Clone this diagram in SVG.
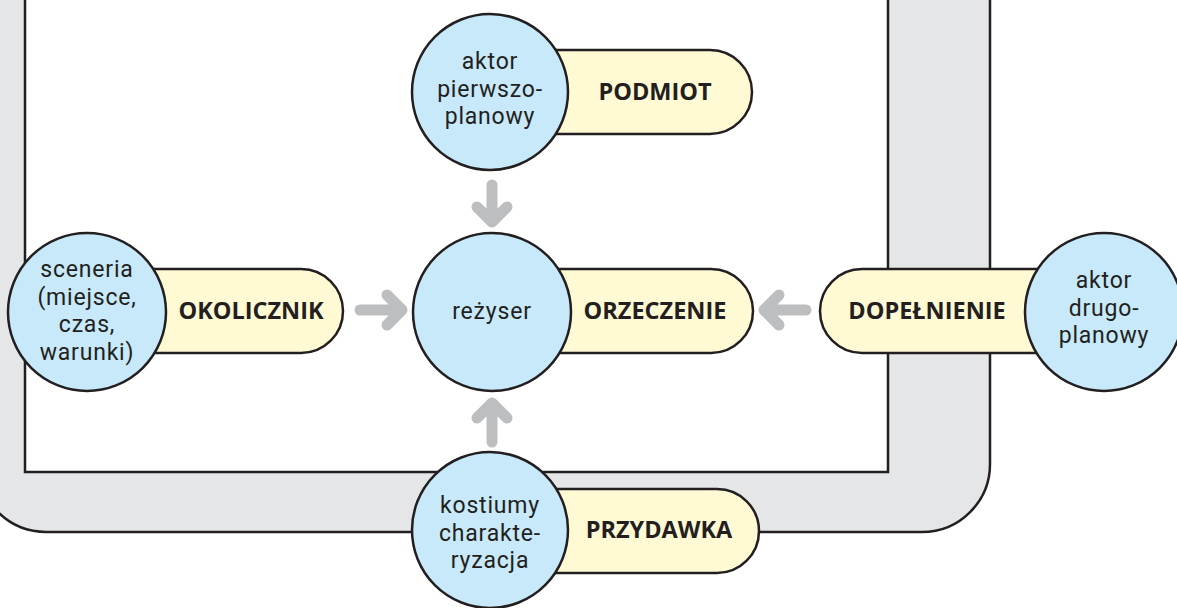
<svg xmlns="http://www.w3.org/2000/svg" width="1177" height="608" viewBox="0 0 1177 608">
  <defs>
    <style>
      .frame { fill: #e5e6e7; stroke: #231f20; stroke-width: 2.5; }
      .inner { fill: #ffffff; stroke: #231f20; stroke-width: 2.5; }
      .pill { fill: #fff9d4; stroke: #231f20; stroke-width: 2.5; }
      .circ { fill: #c7e9f9; stroke: #231f20; stroke-width: 2.5; }
      .t { font-family: Roboto, "Liberation Sans", sans-serif; font-size: 23px; letter-spacing: 0.8px; fill: #231f20; text-anchor: middle; }
      .b { font-family: "Open Sans", "Noto Sans", "Liberation Sans", sans-serif; font-size: 23.5px; font-weight: bold; fill: #231f20; text-anchor: middle; }
      .arr { fill: none; stroke: #bcbec0; stroke-width: 11; stroke-linecap: round; stroke-linejoin: round; }
    </style>
  </defs>

  <g id="frame">
    <rect class="frame" x="-22" y="-200" width="1012" height="732" rx="68" ry="68"/>
    <rect class="inner" x="25" y="-100" width="863" height="572"/>
  </g>

  <g id="connectors">
    <path class="arr" d="M492,185 L492,221 M477,207 L492,222 L507,207"/>
    <path class="arr" d="M492,442 L492,404 M477,418 L492,403 L507,418"/>
    <path class="arr" d="M360,310 L401,310 M387,295 L402,310 L387,325"/>
    <path class="arr" d="M806,310 L765,310 M779,295 L764,310 L779,325"/>
  </g>

  <g id="podmiot">
    <rect class="pill" x="490" y="50" width="262" height="84" rx="42" ry="42"/>
    <circle class="circ" cx="490" cy="92" r="78"/>
    <text class="t"><tspan x="490" y="69">aktor</tspan><tspan x="490" y="96.5">pierwszo-</tspan><tspan x="490" y="124">planowy</tspan></text>
    <text class="b" x="655" y="100">PODMIOT</text>
  </g>

  <g id="orzeczenie">
    <rect class="pill" x="492" y="269" width="261" height="84" rx="42" ry="42"/>
    <circle class="circ" cx="492" cy="312" r="79"/>
    <text class="t" x="492" y="319">reżyser</text>
    <text class="b" x="655" y="319">ORZECZENIE</text>
  </g>

  <g id="okolicznik">
    <rect class="pill" x="87" y="269" width="256" height="84" rx="42" ry="42"/>
    <circle class="circ" cx="87" cy="312" r="79"/>
    <text class="t"><tspan x="87" y="277">sceneria</tspan><tspan x="87" y="304.5">(miejsce,</tspan><tspan x="87" y="332">czas,</tspan><tspan x="87" y="359.5">warunki)</tspan></text>
    <text class="b" x="251" y="319">OKOLICZNIK</text>
  </g>

  <g id="dopelnienie">
    <rect class="pill" x="820" y="269" width="284" height="84" rx="42" ry="42"/>
    <circle class="circ" cx="1104" cy="312" r="79"/>
    <text class="t"><tspan x="1104" y="288">aktor</tspan><tspan x="1104" y="315.5">drugo-</tspan><tspan x="1104" y="343">planowy</tspan></text>
    <text class="b" x="927" y="319">DOPEŁNIENIE</text>
  </g>

  <g id="przydawka">
    <rect class="pill" x="490" y="489" width="269" height="84" rx="42" ry="42"/>
    <circle class="circ" cx="490" cy="530" r="78"/>
    <text class="t"><tspan x="490" y="513">kostiumy</tspan><tspan x="490" y="540.5">charakte-</tspan><tspan x="490" y="568">ryzacja</tspan></text>
    <text class="b" x="659" y="538">PRZYDAWKA</text>
  </g>
</svg>
